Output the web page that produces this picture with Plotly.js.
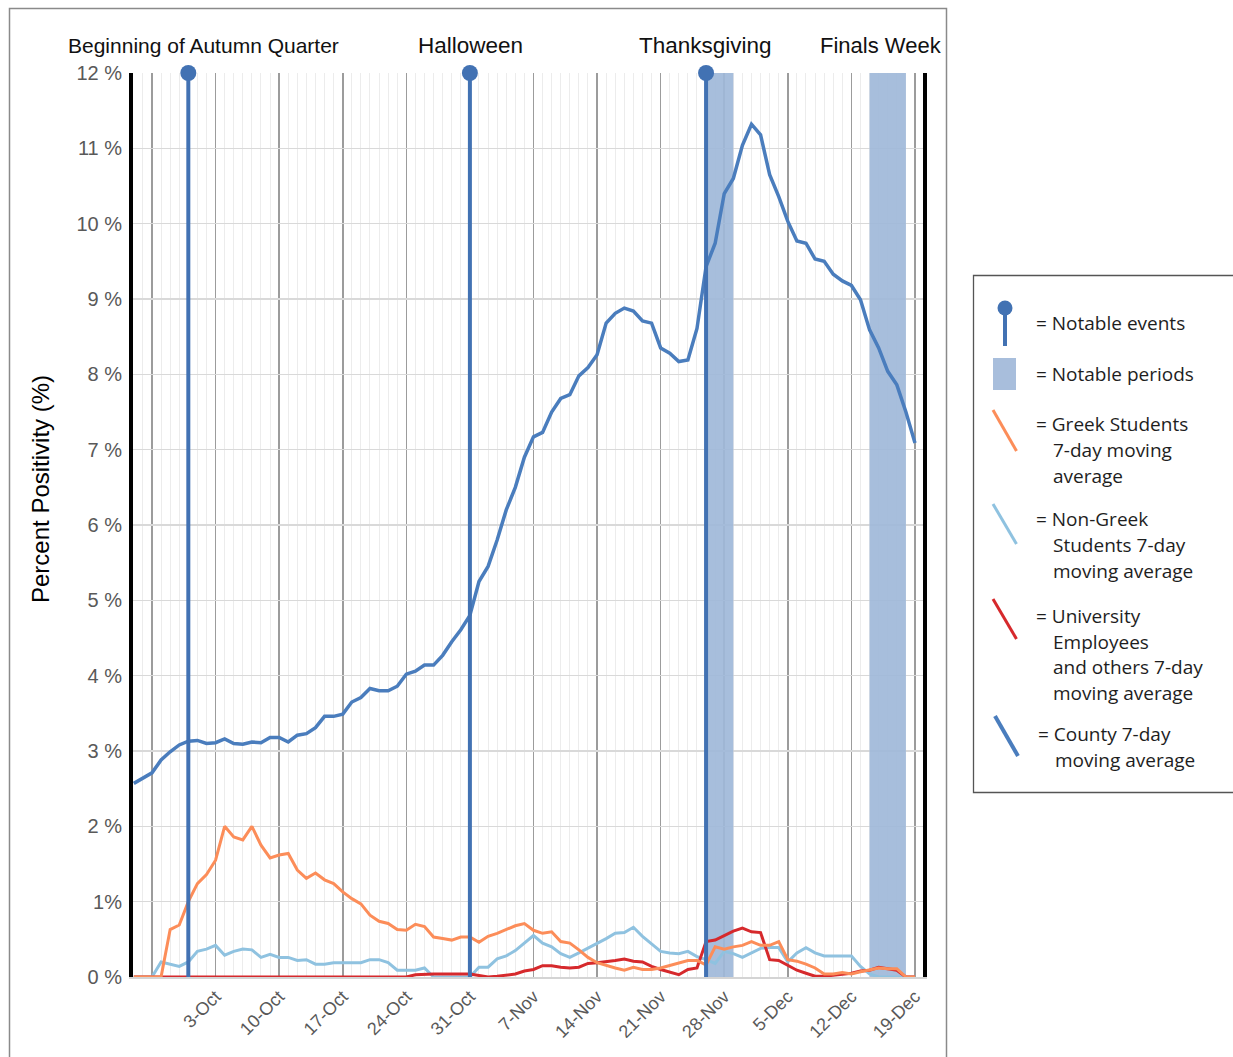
<!DOCTYPE html>
<html><head><meta charset="utf-8">
<script src="https://cdn.plot.ly/plotly-3.0.1.min.js"></script>
<style>html,body{margin:0;padding:0;background:#fff}</style>
</head><body><div id="chart" style="width:1233px;height:1057px"></div>
<script>
// ---------- DATA ----------
const dates = [
 '2020-09-24','2020-09-25','2020-09-26','2020-09-27','2020-09-28','2020-09-29','2020-09-30',
 '2020-10-01','2020-10-02','2020-10-03','2020-10-04','2020-10-05','2020-10-06','2020-10-07','2020-10-08','2020-10-09','2020-10-10',
 '2020-10-11','2020-10-12','2020-10-13','2020-10-14','2020-10-15','2020-10-16','2020-10-17','2020-10-18','2020-10-19','2020-10-20',
 '2020-10-21','2020-10-22','2020-10-23','2020-10-24','2020-10-25','2020-10-26','2020-10-27','2020-10-28','2020-10-29','2020-10-30','2020-10-31',
 '2020-11-01','2020-11-02','2020-11-03','2020-11-04','2020-11-05','2020-11-06','2020-11-07','2020-11-08','2020-11-09','2020-11-10',
 '2020-11-11','2020-11-12','2020-11-13','2020-11-14','2020-11-15','2020-11-16','2020-11-17','2020-11-18','2020-11-19','2020-11-20',
 '2020-11-21','2020-11-22','2020-11-23','2020-11-24','2020-11-25','2020-11-26','2020-11-27','2020-11-28','2020-11-29','2020-11-30',
 '2020-12-01','2020-12-02','2020-12-03','2020-12-04','2020-12-05','2020-12-06','2020-12-07','2020-12-08','2020-12-09','2020-12-10',
 '2020-12-11','2020-12-12','2020-12-13','2020-12-14','2020-12-15','2020-12-16','2020-12-17','2020-12-18','2020-12-19'
];
const county = [
 2.57,2.64,2.71,2.88,2.99,3.08,3.13,3.14,3.10,3.11,
 3.16,3.10,3.09,3.12,3.11,3.18,3.18,3.12,3.21,3.23,
 3.31,3.46,3.46,3.49,3.65,3.71,3.83,3.80,3.80,3.86,
 4.02,4.06,4.14,4.14,4.27,4.45,4.61,4.80,5.25,5.45,
 5.80,6.20,6.50,6.90,7.17,7.23,7.50,7.68,7.73,7.98,
 8.09,8.26,8.68,8.81,8.88,8.84,8.71,8.68,8.35,8.28,
 8.17,8.19,8.61,9.43,9.74,10.40,10.60,11.04,11.32,11.18,
 10.65,10.36,10.03,9.77,9.74,9.53,9.50,9.33,9.24,9.18,
 8.99,8.59,8.35,8.04,7.86,7.50,7.09
];
const greek = [
 0,0,0,0,0.63,0.69,1.00,1.24,1.36,1.55,
 2.00,1.86,1.82,2.00,1.75,1.58,1.62,1.64,1.42,1.31,
 1.38,1.29,1.24,1.13,1.04,0.97,0.82,0.74,0.71,0.63,
 0.62,0.70,0.67,0.53,0.51,0.49,0.53,0.53,0.46,0.54,
 0.58,0.63,0.68,0.71,0.62,0.58,0.60,0.47,0.45,0.36,
 0.26,0.19,0.15,0.12,0.09,0.13,0.10,0.10,0.12,0.15,
 0.19,0.22,0.22,0.16,0.40,0.37,0.40,0.42,0.47,0.42,
 0.42,0.47,0.23,0.21,0.17,0.12,0.04,0.04,0.06,0.04,
 0.07,0.09,0.12,0.11,0.11,0,0
];
const nonGreek = [
 0,0,0,0.20,0.17,0.14,0.20,0.34,0.37,0.42,
 0.29,0.34,0.37,0.36,0.26,0.30,0.26,0.26,0.22,0.23,
 0.17,0.17,0.19,0.19,0.19,0.19,0.23,0.23,0.19,0.09,
 0.09,0.09,0.12,0,0,0,0,0,0.13,0.13,
 0.24,0.28,0.35,0.45,0.55,0.45,0.40,0.31,0.26,0.32,
 0.38,0.45,0.51,0.58,0.59,0.66,0.54,0.44,0.34,0.32,
 0.31,0.34,0.27,0.23,0.18,0.34,0.31,0.26,0.32,0.38,
 0.39,0.39,0.20,0.32,0.39,0.32,0.28,0.28,0.28,0.28,
 0.14,0.04,0,0,0,0,0
];
const university = [
 0,0,0,0,0,0,0,0,0,0,
 0,0,0,0,0,0,0,0,0,0,
 0,0,0,0,0,0,0,0,0,0,
 0,0.03,0.04,0.04,0.04,0.04,0.04,0.04,0.02,0,
 0.01,0.03,0.04,0.08,0.10,0.15,0.15,0.13,0.12,0.13,
 0.18,0.19,0.20,0.22,0.24,0.21,0.20,0.14,0.10,0.07,
 0.03,0.10,0.12,0.47,0.49,0.55,0.61,0.65,0.60,0.59,
 0.23,0.22,0.16,0.09,0.05,0.01,0.01,0.02,0.04,0.05,
 0.08,0.09,0.13,0.11,0.09,0,0
];
const eventDates = ['2020-09-30','2020-10-31','2020-11-26'];
const periodStart = ['2020-11-26','2020-12-14'];
const periodEnd = ['2020-11-29','2020-12-18'];
const topLabels = ['Beginning of Autumn Quarter','Halloween','Thanksgiving','Finals Week'];
const weekTicks = ['2020-09-26','2020-10-03','2020-10-10','2020-10-17','2020-10-24','2020-10-31','2020-11-07','2020-11-14','2020-11-21','2020-11-28','2020-12-05','2020-12-12','2020-12-19'];
const weekLabels = ['','3-Oct','10-Oct','17-Oct','24-Oct','31-Oct','7-Nov','14-Nov','21-Nov','28-Nov','5-Dec','12-Dec','19-Dec'];
const yTicks = [0,1,2,3,4,5,6,7,8,9,10,11,12];
const yLabels = ['0 %','1%','2 %','3 %','4 %','5 %','6 %','7 %','8 %','9 %','10 %','11 %','12 %'];
const legendLabels = [
 ['= Notable events'],
 ['= Notable periods'],
 ['= Greek Students','7-day moving','average'],
 ['= Non-Greek','Students 7-day','moving average'],
 ['= University','Employees','and others 7-day','moving average'],
 ['= County 7-day','moving average']
];

// ---------- STYLE / LAYOUT ----------
const C = {county:'#4a7dbd', greek:'#fc8d59', nonGreek:'#8fc2e0', univ:'#d6292c', event:'#4272b3', band:'rgba(160,184,217,0.92)', bandIcon:'#a8bedc'};
const L=133, R=923, T=73, B=977;
const px = x => (x-L)/(R-L);
const py = y => (B-y)/(B-T);

const traces = [];
// notable periods as filled areas (drawn above the grid, below the lines)
periodStart.forEach((s,i)=>traces.push({x:[s,s,periodEnd[i],periodEnd[i],s], y:[0,12,12,0,0], type:'scatter', mode:'lines', fill:'toself', fillcolor:C.band, line:{width:0, color:C.band}, hoverinfo:'skip'}));
traces.push(
 {x:dates, y:nonGreek, type:'scatter', mode:'lines', line:{color:C.nonGreek, width:3}, hoverinfo:'skip'},
 {x:dates, y:university, type:'scatter', mode:'lines', line:{color:C.univ, width:3}, hoverinfo:'skip'},
 {x:dates, y:greek, type:'scatter', mode:'lines', line:{color:C.greek, width:3}, hoverinfo:'skip'},
 {x:dates, y:county, type:'scatter', mode:'lines', line:{color:C.county, width:3.5}, hoverinfo:'skip'}
);
// event stems
const ex=[], ey=[];
eventDates.forEach(d=>{ex.push(d,d,null); ey.push(0,12,null);});
traces.push({x:ex, y:ey, type:'scatter', mode:'lines', line:{color:C.event, width:4}, connectgaps:false, hoverinfo:'skip'});
traces.push({x:eventDates, y:eventDates.map(()=>12), type:'scatter', mode:'markers', marker:{color:C.event, size:16}, cliponaxis:false, hoverinfo:'skip'});

const shapes = [];
// outer frame
shapes.push({type:'rect', xref:'paper', yref:'paper', x0:px(9.5), x1:px(946.5), y0:py(1070), y1:py(8.5), line:{color:'#8a8a8a', width:1.5}, fillcolor:'rgba(0,0,0,0)', layer:'below'});
// legend box
shapes.push({type:'rect', xref:'paper', yref:'paper', x0:px(973.5), x1:px(1245), y0:py(792.5), y1:py(275.5), line:{color:'#555', width:1.3}, fillcolor:'rgba(0,0,0,0)'});
// legend icons
shapes.push({type:'line', xref:'paper', yref:'paper', x0:px(1005), x1:px(1005), y0:py(312), y1:py(346), line:{color:C.event, width:4}});
shapes.push({type:'circle', xref:'paper', yref:'paper', x0:px(997.5), x1:px(1012.5), y0:py(315.5), y1:py(300.5), fillcolor:C.event, line:{width:0}});
shapes.push({type:'rect', xref:'paper', yref:'paper', x0:px(993), x1:px(1016), y0:py(390), y1:py(358), fillcolor:C.bandIcon, line:{width:0}});
shapes.push({type:'line', xref:'paper', yref:'paper', x0:px(993), x1:px(1016.5), y0:py(410), y1:py(451), line:{color:C.greek, width:3}});
shapes.push({type:'line', xref:'paper', yref:'paper', x0:px(993), x1:px(1016.5), y0:py(504), y1:py(544), line:{color:C.nonGreek, width:3}});
shapes.push({type:'line', xref:'paper', yref:'paper', x0:px(993), x1:px(1016.5), y0:py(599), y1:py(639), line:{color:C.univ, width:3}});
shapes.push({type:'line', xref:'paper', yref:'paper', x0:px(995), x1:px(1018), y0:py(716), y1:py(756), line:{color:C.county, width:4}});

const annotations = [];
const topX = [203, 470, 705, 881];
const topSize = [21, 22.5, 22.5, 22];
topLabels.forEach((t,i)=>annotations.push({text:t, xref:'paper', yref:'paper', x:px(topX[i]), y:py(45), xanchor:'center', yanchor:'middle', showarrow:false, font:{family:'Liberation Sans, Arial, sans-serif', size:topSize[i], color:'#111'}}));
annotations.push({text:'Percent Positivity (%)', xref:'paper', yref:'paper', x:px(40), y:py(489), textangle:-90, xanchor:'center', yanchor:'middle', showarrow:false, font:{family:'Liberation Sans, Arial, sans-serif', size:24, color:'#000'}});
const legendY = [[323],[374],[424,450,476],[519,545,571],[616,642,667,693],[734,760]];
const legendX0 = [1034,1034,1034,1034,1034,1036];
legendLabels.forEach((lines,i)=>lines.forEach((t,j)=>annotations.push({
 text:t, xref:'paper', yref:'paper', x:px(j===0?legendX0[i]:legendX0[i]+17), y:py(legendY[i][j]), xanchor:'left', yanchor:'middle', showarrow:false,
 font:{family:'Open Sans, Noto Sans, sans-serif', size:19, color:'#1e1e1e'}})));

const layout = {
 width:1233, height:1057,
 margin:{l:L, r:1233-R, t:T, b:1057-B, pad:0},
 paper_bgcolor:'#fff', plot_bgcolor:'#fff',
 showlegend:false,
 xaxis:{type:'date', range:['2020-09-23 21:50','2020-12-19 21:10'],
   tickmode:'array', tickvals:weekTicks, ticktext:weekLabels, tickangle:-45,
   tickfont:{family:'Liberation Sans, Arial, sans-serif', size:18, color:'#595959'},
   showgrid:true, gridcolor:'#9c9c9c', gridwidth:1.6,
   minor:{tick0:'2020-09-24', dtick:86400000, showgrid:true, gridcolor:'#ececec', gridwidth:1, ticks:''},
   showline:true, linecolor:'#d4d4d4', linewidth:2, zeroline:false, ticks:'', fixedrange:true},
 yaxis:{range:[0,12], tickmode:'array', tickvals:yTicks, ticktext:yLabels,
   tickfont:{family:'Liberation Sans, Arial, sans-serif', size:20, color:'#595959'},
   showgrid:true, gridcolor:'#d9d9d9', gridwidth:1.5, zeroline:false,
   showline:true, linecolor:'#000', linewidth:4, mirror:true, ticks:'', ticklabelstandoff:3, fixedrange:true},
 shapes:shapes, annotations:annotations
};
Plotly.newPlot('chart', traces, layout, {displayModeBar:false, staticPlot:true});
</script></body></html>
